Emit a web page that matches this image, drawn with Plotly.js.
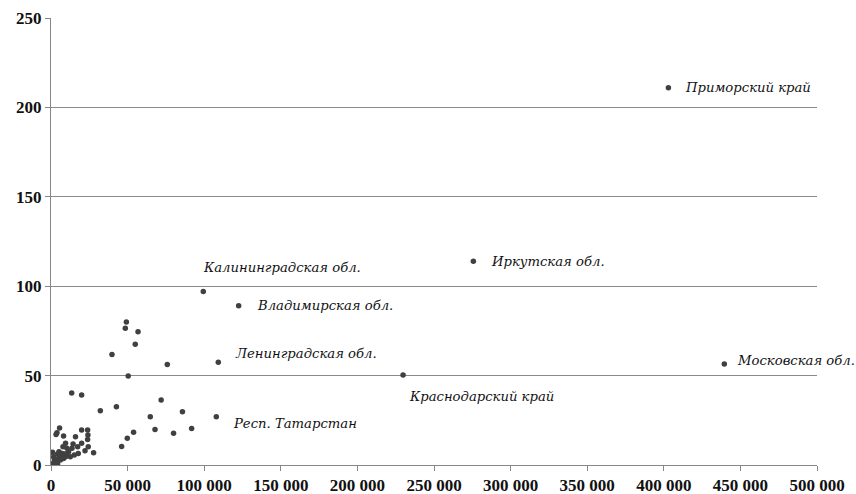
<!DOCTYPE html>
<html>
<head>
<meta charset="utf-8">
<script src="https://cdn.plot.ly/plotly-3.0.1.min.js"></script>
<style>html,body{margin:0;padding:0;background:#fff;}#chart{width:856px;height:494px;}</style>
</head>
<body>
<div id="chart"></div>
<script>
// Labelled regions
const labelNames = ["Приморский край","Иркутская обл.","Калининградская обл.","Владимирская обл.","Ленинградская обл.","Краснодарский край","Московская обл.","Респ. Татарстан"];
const labelX = [403000, 275700, 99400, 122500, 109200, 229800, 439500, 107900];
const labelY = [211, 114, 97, 89, 57.5, 50.3, 56.5, 27];

// Other regions (unlabelled)
const otherX = [49200, 48500, 56800, 55000, 39800, 75900, 50400, 32200, 42700, 71900,
  85800, 64800, 53900, 67900, 80000, 91800, 49800, 46100, 13500, 20000,
  5600, 3900, 3300, 8200, 16000, 20000, 23900, 24100, 23900, 20000,
  24300, 27800, 22200, 17800, 17400, 14400, 13700, 10400, 9500, 7800,
  11500, 15200, 12600, 9500, 1000, 1700, 2200, 1300, 4300, 6100,
  7200, 4300, 5600, 3500, 5200, 7200, 8700, 8200, 3900, 10400];
const otherY = [80, 76.5, 74.5, 67.6, 61.8, 56.2, 49.8, 30.4, 32.6, 36.3,
  29.8, 27, 18.3, 19.8, 17.8, 20.4, 15, 10.3, 40.2, 39.2,
  20.7, 18, 17, 16.2, 15.8, 19.6, 19.6, 16.8, 14.3, 12.1,
  10.2, 6.9, 8, 6.5, 10.2, 11.7, 9.3, 9.3, 12.1, 10.2,
  7.4, 5.6, 4.6, 4.6, 7.1, 4.6, 2.8, 0.9, 0.6, 2.8,
  4.6, 6.1, 4.6, 3.2, 7.4, 6.5, 6.1, 3.7, 1.8, 6.5];

const xTicks = [0, 50000, 100000, 150000, 200000, 250000, 300000, 350000, 400000, 450000, 500000];
const yTicks = [0, 50, 100, 150, 200, 250];

// label offsets in pixels (style/position only)
const offX = [15, 16, -2, 16, 15, 4, 11, 15];
const offY = [0, 0, 24, 0, 9, -21, 3, -7];

const allX = labelX.concat(otherX);
const allY = labelY.concat(otherY);

const trace = {
  x: allX, y: allY, type: 'scatter', mode: 'markers',
  marker: {color: '#404040', size: 5.5},
  hoverinfo: 'skip', showlegend: false
};

const annotations = labelNames.map((t, i) => ({
  x: labelX[i], y: labelY[i], xref: 'x', yref: 'y', text: t, showarrow: false,
  xanchor: 'left', yanchor: 'middle', xshift: offX[i], yshift: offY[i],
  font: {family: 'DejaVu Serif', size: 13.2, color: '#111', style: 'italic'}
}));

const tickFont = {family: 'Liberation Serif', size: 17, color: '#111', weight: 'bold'};

const layout = {
  width: 856, height: 494,
  margin: {l: 51, r: 39, t: 18, b: 29},
  paper_bgcolor: '#fff', plot_bgcolor: '#fff',
  separators: '. ',
  xaxis: {
    range: [0, 500000], tickvals: xTicks, tickformat: ',d',
    showgrid: false, zeroline: false, showline: true, linecolor: '#868686', linewidth: 1,
    ticks: 'outside', ticklen: 5, tickcolor: '#868686',
    tickfont: tickFont
  },
  yaxis: {
    range: [0, 250], tickvals: yTicks,
    showgrid: true, gridcolor: '#8a8a8a', gridwidth: 1, zeroline: false,
    showline: true, linecolor: '#868686', linewidth: 1,
    ticks: 'outside', ticklen: 5, tickcolor: '#868686',
    tickfont: tickFont
  },
  annotations: annotations
};

Plotly.newPlot('chart', [trace], layout, {staticPlot: true});
</script>
</body>
</html>
